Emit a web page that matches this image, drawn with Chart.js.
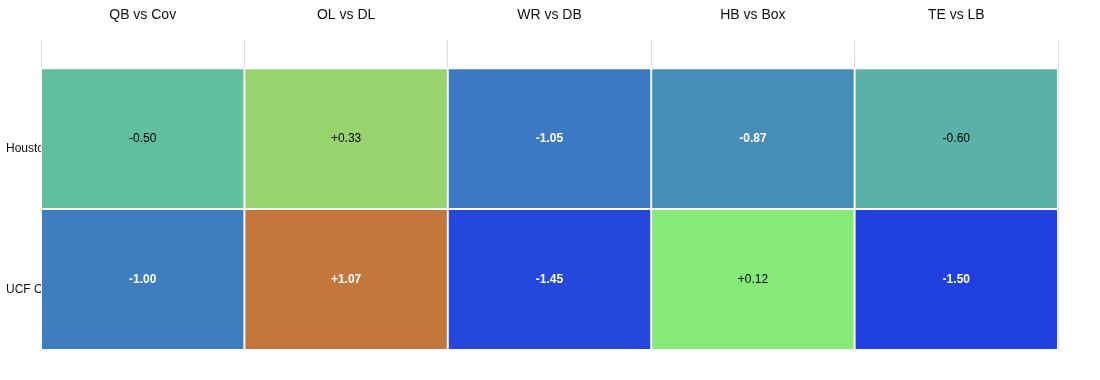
<!DOCTYPE html>
<html>
<head>
<meta charset="utf-8">
<script src="https://cdn.jsdelivr.net/npm/chart.js@4.4.1/dist/chart.umd.min.js"></script>
<style>
html,body{margin:0;padding:0;background:#fff;}
#wrap{width:1100px;height:380px;position:relative;}
</style>
</head>
<body>
<div id="wrap"><canvas id="c"></canvas></div>
<script>
const matchups = ['QB vs Cov', 'OL vs DL', 'WR vs DB', 'HB vs Box', 'TE vs LB'];
const teams = ['Houston', 'UCF Oklahoma'];
const houstonValues = [-0.50, 0.33, -1.05, -0.87, -0.60];
const ucfValues = [-1.00, 1.07, -1.45, 0.12, -1.50];

// styles (cell fill colours, one per cell)
const houstonColors = ['#61bfa0', '#98d46e', '#3b79c2', '#468eb8', '#5ab1a8'];
const ucfColors = ['#3e7dbe', '#c4773c', '#2448dc', '#86ea78', '#2140e0'];
const darkText = [[false, false, true, true, false], [true, true, true, false, true]];

const rowValues = [houstonValues, ucfValues];
const rowColors = [houstonColors, ucfColors];

const datasets = rowValues.map((vals, r) => ({
  label: teams[r],
  data: vals.map(() => [r, r + 1]),
  values: vals,
  backgroundColor: rowColors[r],
  borderColor: '#ffffff',
  borderWidth: 1.3,
  borderSkipped: false,
  barPercentage: 1,
  categoryPercentage: 1,
  grouped: false
}));

const fmt = v => (v > 0 ? '+' : '') + v.toFixed(2);

const valueLabels = {
  id: 'valueLabels',
  afterDatasetsDraw(chart) {
    const ctx = chart.ctx;
    ctx.save();
    ctx.textAlign = 'center';
    ctx.textBaseline = 'middle';
    chart.data.datasets.forEach((ds, r) => {
      chart.getDatasetMeta(r).data.forEach((bar, i) => {
        const p = bar.getProps(['x', 'y', 'base'], true);
        const cy = (p.y + p.base) / 2;
        const dark = darkText[r][i];
        ctx.fillStyle = dark ? '#ffffff' : '#000000';
        ctx.font = (dark ? 'bold ' : '') + '12px "Liberation Sans", Arial, sans-serif';
        ctx.fillText(fmt(ds.values[i]), p.x, cy);
      });
    });
    ctx.restore();
  }
};

new Chart(document.getElementById('c'), {
  type: 'bar',
  data: { labels: matchups, datasets },
  options: {
    responsive: true,
    maintainAspectRatio: false,
    animation: false,
    layout: { padding: { left: 6, right: 42, top: 0, bottom: 30 } },
    plugins: { legend: { display: false }, tooltip: { enabled: false } },
    scales: {
      x: {
        position: 'top',
        offset: true,
        grid: { offset: true, color: '#dddddd', drawTicks: false },
        border: { display: false },
        ticks: { color: '#111', font: { size: 14, family: '"Liberation Sans", Arial, sans-serif' }, padding: 16 },
        afterFit(s) { s.height = 40; }
      },
      y: {
        type: 'linear',
        reverse: true,
        min: -0.2,
        max: 2,
        grid: { display: false },
        border: { display: false },
        afterBuildTicks(s) { s.ticks = teams.map((t, i) => ({ value: i + 0.5 })); },
        ticks: {
          crossAlign: 'far',
          labelOffset: 10,
          color: '#111',
          font: { size: 12, family: '"Liberation Sans", Arial, sans-serif' },
          callback: (v) => teams[Math.round(v - 0.5)]
        },
        afterFit(s) { s.width = 35; }
      }
    }
  },
  plugins: [valueLabels]
});
</script>
</body>
</html>
